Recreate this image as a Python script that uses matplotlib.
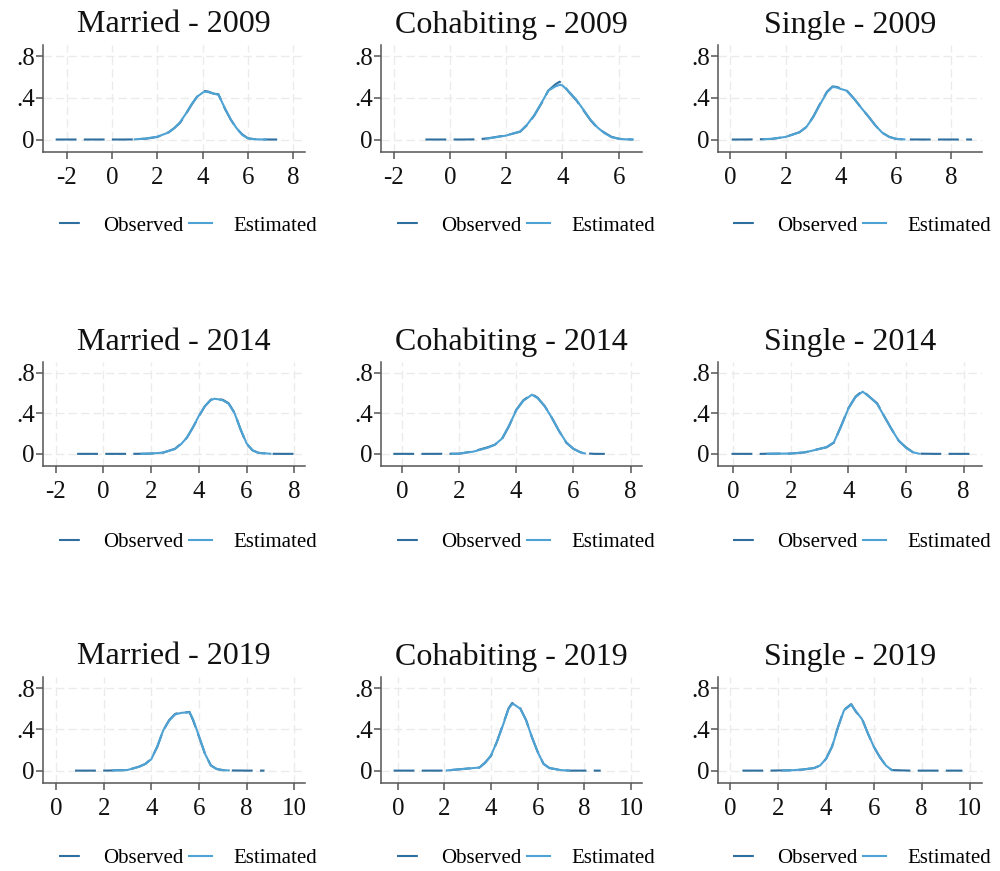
import numpy as np
import matplotlib
matplotlib.use("Agg")
import matplotlib.pyplot as plt

nan = np.nan

# ---- data (kernel densities, observed vs estimated) ----
married_2009_x = [-2.5, -1.5, -0.5, 0.5, 1.0, 1.5, 2.0, 2.5, 2.75, 3.0, 3.25, 3.5, 3.75, 4.0, 4.1, 4.25, 4.5, 4.7, 5.0, 5.25, 5.5, 5.75, 6.0, 6.25, 6.5, 6.8, 7.3]
married_2009_obs = [0, 0, 0, 0, 0.001, 0.008, 0.025, 0.07, 0.11, 0.16, 0.24, 0.33, 0.41, 0.455, 0.466, 0.46, 0.44, 0.435, 0.29, 0.19, 0.107, 0.05, 0.012, 0.004, 0.002, 0, 0]
married_2009_est = [nan, nan, nan, nan, 0.002, 0.01, 0.027, 0.068, 0.11, 0.165, 0.245, 0.335, 0.41, 0.45, 0.46, 0.455, 0.44, 0.43, 0.295, 0.19, 0.11, 0.045, 0.012, 0.004, 0.001, 0, nan]

cohab_2009_x = [-0.87, 0.0, 0.5, 1.0, 1.3, 1.5, 2.0, 2.5, 2.75, 3.0, 3.25, 3.5, 3.75, 3.9, 4.0, 4.25, 4.5, 4.75, 5.0, 5.25, 5.5, 5.75, 6.0, 6.25, 6.5]
cohab_2009_obs = [0, 0, 0, 0.002, 0.01, 0.018, 0.04, 0.075, 0.14, 0.23, 0.345, 0.47, 0.53, 0.555, 0.535, 0.45, 0.375, 0.28, 0.185, 0.11, 0.065, 0.025, 0.008, 0.002, 0]
cohab_2009_est = [nan, nan, nan, nan, 0.008, 0.016, 0.038, 0.078, 0.145, 0.235, 0.35, 0.47, 0.51, 0.525, 0.52, 0.455, 0.38, 0.285, 0.19, 0.115, 0.06, 0.022, 0.007, 0.002, 0.0]

single_2009_x = [0.05, 0.5, 1.0, 1.2, 1.5, 2.0, 2.5, 2.75, 3.0, 3.25, 3.5, 3.7, 3.85, 4.0, 4.2, 4.5, 4.75, 5.0, 5.25, 5.5, 5.75, 6.0, 6.3, 7.0, 8.0, 8.75]
single_2009_obs = [0, 0, 0.002, 0.003, 0.006, 0.025, 0.07, 0.12, 0.22, 0.345, 0.46, 0.51, 0.505, 0.49, 0.475, 0.385, 0.30, 0.22, 0.135, 0.065, 0.025, 0.006, 0.001, 0, 0, 0]
single_2009_est = [nan, nan, nan, 0.003, 0.006, 0.025, 0.07, 0.12, 0.215, 0.34, 0.455, 0.505, 0.5, 0.485, 0.47, 0.385, 0.30, 0.22, 0.135, 0.065, 0.025, 0.006, 0.001, nan, nan, nan]

married_2014_x = [-1.1, 0.0, 1.0, 1.6, 2.0, 2.5, 3.0, 3.25, 3.5, 3.75, 4.0, 4.25, 4.5, 4.65, 4.8, 5.0, 5.25, 5.5, 5.75, 6.0, 6.25, 6.5, 7.0, 7.5, 8.0]
married_2014_obs = [0, 0, 0, 0.001, 0.003, 0.012, 0.05, 0.1, 0.16, 0.26, 0.37, 0.47, 0.535, 0.55, 0.54, 0.535, 0.5, 0.405, 0.24, 0.1, 0.035, 0.01, 0.001, 0, 0]
married_2014_est = [nan, nan, nan, 0.001, 0.003, 0.012, 0.048, 0.095, 0.16, 0.26, 0.375, 0.47, 0.53, 0.545, 0.54, 0.53, 0.495, 0.40, 0.245, 0.105, 0.035, 0.01, 0.001, nan, nan]

cohab_2014_x = [-0.3, 0.5, 1.0, 1.75, 2.0, 2.5, 3.0, 3.25, 3.5, 3.75, 4.0, 4.25, 4.55, 4.75, 5.0, 5.25, 5.5, 5.75, 6.0, 6.25, 6.4, 6.75, 7.1]
cohab_2014_obs = [0, 0, 0, 0.001, 0.002, 0.025, 0.065, 0.09, 0.145, 0.275, 0.435, 0.53, 0.59, 0.555, 0.47, 0.355, 0.225, 0.11, 0.05, 0.015, 0.005, 0, 0]
cohab_2014_est = [nan, nan, nan, 0.001, 0.002, 0.022, 0.06, 0.09, 0.15, 0.28, 0.43, 0.525, 0.585, 0.55, 0.47, 0.355, 0.225, 0.115, 0.05, 0.015, 0.005, nan, nan]

single_2014_x = [-0.05, 0.5, 1.0, 1.2, 1.5, 2.0, 2.5, 3.0, 3.25, 3.5, 3.75, 4.0, 4.25, 4.5, 4.75, 5.0, 5.25, 5.5, 5.75, 6.0, 6.25, 6.45, 7.0, 7.5, 8.25]
single_2014_obs = [0, 0, 0, 0.001, 0.002, 0.003, 0.015, 0.05, 0.065, 0.11, 0.275, 0.45, 0.565, 0.625, 0.56, 0.5, 0.37, 0.245, 0.13, 0.065, 0.015, 0.002, 0, 0, 0]
single_2014_est = [nan, nan, nan, 0.001, 0.002, 0.003, 0.015, 0.048, 0.068, 0.115, 0.27, 0.445, 0.56, 0.615, 0.56, 0.495, 0.37, 0.245, 0.13, 0.06, 0.015, 0.002, nan, nan, nan]

married_2019_x = [0.8, 1.5, 2.0, 2.4, 2.5, 3.0, 3.5, 3.75, 4.0, 4.25, 4.5, 4.75, 5.0, 5.25, 5.5, 5.6, 5.75, 6.0, 6.25, 6.5, 6.75, 7.0, 7.25, 8.0, 8.75]
married_2019_obs = [0, 0, 0, 0.002, 0.003, 0.005, 0.04, 0.065, 0.115, 0.23, 0.39, 0.49, 0.55, 0.565, 0.565, 0.57, 0.49, 0.33, 0.165, 0.05, 0.015, 0.005, 0.002, 0, 0]
married_2019_est = [nan, nan, nan, 0.002, 0.003, 0.006, 0.038, 0.065, 0.11, 0.235, 0.39, 0.485, 0.545, 0.56, 0.565, 0.565, 0.5, 0.335, 0.165, 0.05, 0.015, 0.005, 0.002, nan, nan]

cohab_2019_x = [-0.18, 1.0, 2.0, 2.1, 2.5, 3.0, 3.5, 3.75, 4.0, 4.25, 4.5, 4.75, 4.9, 5.0, 5.25, 5.5, 5.75, 6.0, 6.25, 6.5, 7.0, 7.35, 8.0, 8.7]
cohab_2019_obs = [0, 0, 0, 0.002, 0.01, 0.02, 0.03, 0.08, 0.145, 0.28, 0.44, 0.605, 0.655, 0.645, 0.605, 0.49, 0.325, 0.18, 0.065, 0.025, 0.005, 0, 0, 0]
cohab_2019_est = [nan, nan, nan, 0.002, 0.01, 0.02, 0.03, 0.075, 0.15, 0.28, 0.435, 0.6, 0.645, 0.64, 0.6, 0.49, 0.325, 0.18, 0.065, 0.025, 0.005, 0, nan, nan]

single_2019_x = [0.5, 1.5, 2.2, 2.5, 3.0, 3.5, 3.75, 4.0, 4.25, 4.5, 4.75, 5.05, 5.25, 5.5, 5.75, 6.0, 6.25, 6.5, 6.75, 7.5, 8.5, 9.7]
single_2019_obs = [0, 0, 0.002, 0.003, 0.01, 0.025, 0.05, 0.115, 0.235, 0.425, 0.59, 0.645, 0.57, 0.505, 0.36, 0.23, 0.13, 0.05, 0.005, 0, 0, 0]
single_2019_est = [nan, nan, 0.002, 0.003, 0.01, 0.025, 0.05, 0.115, 0.23, 0.42, 0.585, 0.64, 0.575, 0.5, 0.36, 0.23, 0.13, 0.05, 0.005, nan, nan, nan]

titles = ["Married - 2009", "Cohabiting - 2009", "Single - 2009",
          "Married - 2014", "Cohabiting - 2014", "Single - 2014",
          "Married - 2019", "Cohabiting - 2019", "Single - 2019"]
xs = [married_2009_x, cohab_2009_x, single_2009_x,
      married_2014_x, cohab_2014_x, single_2014_x,
      married_2019_x, cohab_2019_x, single_2019_x]
observed = [married_2009_obs, cohab_2009_obs, single_2009_obs,
            married_2014_obs, cohab_2014_obs, single_2014_obs,
            married_2019_obs, cohab_2019_obs, single_2019_obs]
estimated = [married_2009_est, cohab_2009_est, single_2009_est,
             married_2014_est, cohab_2014_est, single_2014_est,
             married_2019_est, cohab_2019_est, single_2019_est]
xticks = [range(-2, 9, 2), range(-2, 7, 2), range(0, 9, 2),
          range(-2, 9, 2), range(0, 9, 2), range(0, 9, 2),
          range(0, 11, 2), range(0, 11, 2), range(0, 11, 2)]
yticks = [0, 0.4, 0.8]
ytick_labels = ["0", ".4", ".8"]

# ---- layout (pixels on a 1000x871 canvas) ----
xlims = [(-3.06, 8.53), (-2.45, 6.83), (-0.45, 9.11),
         (-2.53, 8.45), (-0.73, 8.40), (-0.52, 8.64),
         (-0.545, 10.45), (-0.72, 10.47), (-0.52, 10.52)]
col_px = [(43, 305), (381, 642), (718, 982)]
row_px = [(45, 152), (362, 466), (677, 783)]
legend_cx = [188, 526, 862]
legend_cy = [226, 542, 858]

W, H = 1000, 871
plt.rcParams['font.family'] = ['Liberation Serif', 'DejaVu Serif']
plt.rcParams['axes.unicode_minus'] = False
fig = plt.figure(figsize=(W / 100, H / 100), dpi=100)

obs_color = '#2f6f9f'
est_color = '#4ea3d4'
axis_color = '#555555'

for i in range(9):
    r, c = divmod(i, 3)
    (l, rr), (t, b) = col_px[c], row_px[r]
    ax = fig.add_axes([l / W, 1 - b / H, (rr - l) / W, (b - t) / H])

    ax.plot(xs[i], observed[i], color=obs_color, lw=1.5, dashes=(10, 3.5), label='Observed')
    ax.plot(xs[i], estimated[i], color=est_color, lw=1.5, label='Estimated')

    ax.set_xlim(*xlims[i])
    ax.set_ylim(-0.12, 0.908)
    ax.set_xticks(list(xticks[i]))
    ax.set_yticks(yticks)
    ax.set_yticklabels(ytick_labels)

    ax.grid(True, color='#ebebeb', lw=1.0, dashes=(6, 3))
    ax.set_axisbelow(True)
    for side in ['top', 'right']:
        ax.spines[side].set_visible(False)
    for side in ['left', 'bottom']:
        ax.spines[side].set_color(axis_color)
        ax.spines[side].set_linewidth(1.1)
    ax.tick_params(axis='both', colors=axis_color, labelcolor='#111111',
                   labelsize=18, length=5, width=1.1)
    ax.tick_params(axis='x', pad=6)
    ax.tick_params(axis='y', pad=1)

    ax.set_title(titles[i], fontsize=23, pad=9, color='#111111')

    ax.legend(loc='center', ncol=2, frameon=False, fontsize=15,
              handlelength=1.1, handletextpad=1.0, columnspacing=0.3,
              bbox_to_anchor=(legend_cx[c] / W, 1 - legend_cy[r] / H),
              bbox_transform=fig.transFigure)

fig.savefig('out.png', dpi=100, facecolor='white')
